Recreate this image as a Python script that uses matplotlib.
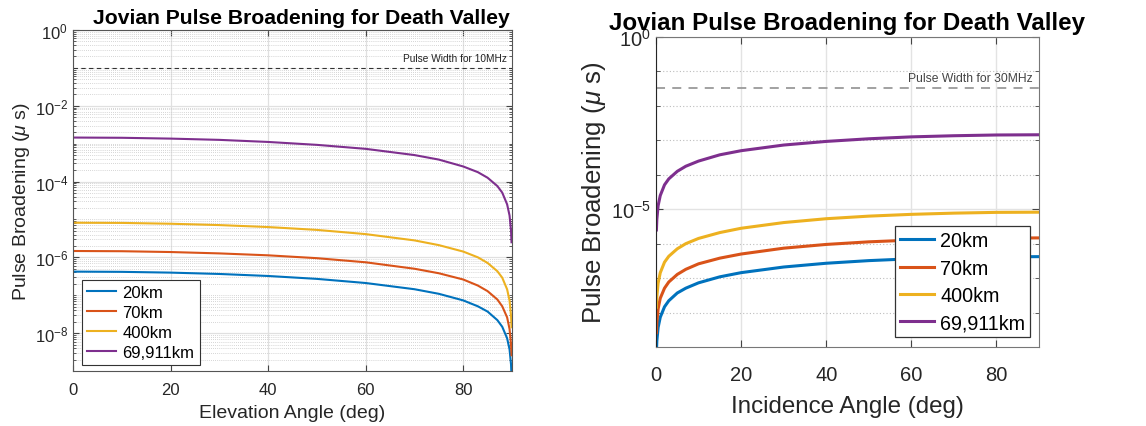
# Jovian pulse broadening: elevation vs incidence angle

import math
import matplotlib
matplotlib.use('Agg')
import matplotlib.pyplot as plt
from matplotlib.ticker import FixedLocator, FuncFormatter, NullFormatter

# Angles (deg); right plot is the same data over incidence angle
elevation_deg = [0, 10, 20, 30, 40, 50, 60, 70, 75, 80, 83, 85, 87, 88, 89, 89.5, 89.8, 89.9]
incidence_deg = [90, 80, 70, 60, 50, 40, 30, 20, 15, 10, 7, 5, 3, 2, 1, 0.5, 0.2, 0.1]

# Pulse broadening (us) per ionosphere height
b_20km = [4.2e-7, 4.14e-7, 3.95e-7, 3.64e-7, 3.22e-7, 2.70e-7, 2.1e-7, 1.44e-7, 1.09e-7,
          7.3e-8, 5.1e-8, 3.7e-8, 2.2e-8, 1.47e-8, 7.3e-9, 3.7e-9, 1.5e-9, 7.3e-10]
b_70km = [1.47e-6, 1.45e-6, 1.38e-6, 1.27e-6, 1.13e-6, 9.5e-7, 7.4e-7, 5.0e-7, 3.8e-7,
          2.6e-7, 1.8e-7, 1.28e-7, 7.7e-8, 5.1e-8, 2.6e-8, 1.28e-8, 5.1e-9, 2.6e-9]
b_400km = [8.2e-6, 8.1e-6, 7.7e-6, 7.1e-6, 6.3e-6, 5.3e-6, 4.1e-6, 2.8e-6, 2.1e-6,
           1.42e-6, 1.0e-6, 7.1e-7, 4.3e-7, 2.9e-7, 1.43e-7, 7.2e-8, 2.9e-8, 1.43e-8]
b_69911km = [1.45e-3, 1.43e-3, 1.36e-3, 1.26e-3, 1.11e-3, 9.3e-4, 7.3e-4, 5.0e-4, 3.8e-4,
             2.5e-4, 1.77e-4, 1.26e-4, 7.6e-5, 5.1e-5, 2.5e-5, 1.27e-5, 5.1e-6, 2.5e-6]

labels = ['20km', '70km', '400km', '69,911km']
series = [b_20km, b_70km, b_400km, b_69911km]
colors = ['#0072BD', '#D95319', '#EDB120', '#7E2F8E']

pulse_10mhz = 0.1      # us
pulse_30mhz = 1 / 30   # us

plt.rcParams['font.family'] = ['Liberation Sans', 'DejaVu Sans']
plt.rcParams['mathtext.fontset'] = 'custom'
plt.rcParams['mathtext.rm'] = 'Liberation Sans'
plt.rcParams['mathtext.it'] = 'Liberation Sans:italic'
plt.rcParams['mathtext.default'] = 'regular'

W, H = 1146, 427
fig = plt.figure(figsize=(W / 100, H / 100), dpi=100)


def px_axes(l, t, r, b):
    return fig.add_axes([l / W, 1 - b / H, (r - l) / W, (b - t) / H])


def pow10(v, pos):
    return r'$10^{%d}$' % round(math.log10(v))


ylabel = r'Pulse Broadening ($\mathit{\mu}$ s)'
title = 'Jovian Pulse Broadening for Death Valley'

# ---- left: elevation angle
ax1 = px_axes(73, 31, 512, 372)
for y, c, lab in zip(series, colors, labels):
    ax1.plot(elevation_deg, y, color=c, lw=1.5, label=lab)
ax1.axhline(pulse_10mhz, color='#333333', lw=0.8, ls=(0, (4, 3)))
ax1.text(89, pulse_10mhz * 1.35, 'Pulse Width for 10MHz', ha='right', va='bottom',
         fontsize=7.3, color='#222222')
ax1.set_yscale('log')
ax1.set_xlim(0, 90)
ax1.set_ylim(1e-9, 1e0)
ax1.set_xticks([0, 20, 40, 60, 80])
maj = [10.0 ** e for e in (0, -2, -4, -6, -8)]
minr = [m * 10.0 ** e for e in range(-9, 0) for m in range(1, 10) if m * 10.0 ** e not in maj]
ax1.yaxis.set_major_locator(FixedLocator(maj))
ax1.yaxis.set_minor_locator(FixedLocator(minr))
ax1.yaxis.set_major_formatter(FuncFormatter(pow10))
ax1.yaxis.set_minor_formatter(NullFormatter())
ax1.set_axisbelow(True)
ax1.grid(True, which='major', color='#e0e0e0', lw=0.9)
ax1.grid(True, which='minor', axis='y', color='#c8c8c8', lw=0.6, ls=(0, (1, 1.5)))
ax1.tick_params(which='both', direction='in', top=True, right=True, colors='#444444',
                labelcolor='#262626', labelsize=12)
ax1.tick_params(which='major', length=4)
ax1.tick_params(which='minor', length=2)
ax1.tick_params(axis='x', pad=8)
for s in ax1.spines.values():
    s.set_color('#555555')
ax1.set_xlabel('Elevation Angle (deg)', fontsize=14, color='#262626', labelpad=5)
ax1.set_ylabel(ylabel, fontsize=14, color='#262626', labelpad=2)
ax1.set_title(title, fontsize=15.2, fontweight='bold', pad=5, x=0.52)
ax1.legend(loc='lower left', bbox_to_anchor=(0.02, 0.018), borderaxespad=0,
           fontsize=12, fancybox=False, framealpha=1, edgecolor='#333333',
           handlelength=1.75, handletextpad=0.4, labelspacing=0.3,
           borderpad=0.3).get_frame().set_linewidth(0.8)

# ---- right: incidence angle
ax2 = px_axes(656, 38, 1039, 348)
for y, c, lab in zip(series, colors, labels):
    ax2.plot(incidence_deg, y, color=c, lw=2.2, label=lab)
ax2.axhline(pulse_30mhz, color='#9a9a9a', lw=1.3, ls=(0, (5, 4)))
ax2.text(88.5, pulse_30mhz * 1.3, 'Pulse Width for 30MHz', ha='right', va='bottom',
         fontsize=8.7, color='#444444')
ax2.set_yscale('log')
ax2.set_xlim(0, 90)
ax2.set_ylim(1e-9, 1e0)
ax2.set_xticks([0, 20, 40, 60, 80])
ax2.yaxis.set_major_locator(FixedLocator([1e0, 1e-5]))
ax2.yaxis.set_minor_locator(FixedLocator([10.0 ** e for e in (-1, -2, -3, -4, -6, -7, -8)]))
ax2.yaxis.set_major_formatter(FuncFormatter(pow10))
ax2.yaxis.set_minor_formatter(NullFormatter())
ax2.set_axisbelow(True)
ax2.grid(True, which='major', color='#e3e3e3', lw=1.0)
ax2.grid(True, which='minor', axis='y', color='#bdbdbd', lw=0.8, ls=(0, (1, 2)))
ax2.tick_params(which='both', direction='in', top=True, right=True, colors='#444444',
                labelcolor='#262626', labelsize=14.5)
ax2.tick_params(which='major', length=5)
ax2.tick_params(which='minor', length=3)
ax2.tick_params(axis='x', pad=13)
for s in ax2.spines.values():
    s.set_color('#777777')
ax2.spines['left'].set_color('#262626')
ax2.set_xlabel('Incidence Angle (deg)', fontsize=17.4, color='#262626', labelpad=8)
ax2.set_ylabel(ylabel, fontsize=18.5, color='#262626', labelpad=2)
ax2.set_title(title, fontsize=17.4, fontweight='bold', pad=6)
ax2.legend(loc='lower right', bbox_to_anchor=(0.9765, 0.032), borderaxespad=0,
           fontsize=14.2, fancybox=False, framealpha=1, edgecolor='#333333',
           handlelength=1.75, handletextpad=0.3, labelspacing=0.42,
           borderpad=0.25).get_frame().set_linewidth(0.9)

fig.savefig('out.png', dpi=100)
